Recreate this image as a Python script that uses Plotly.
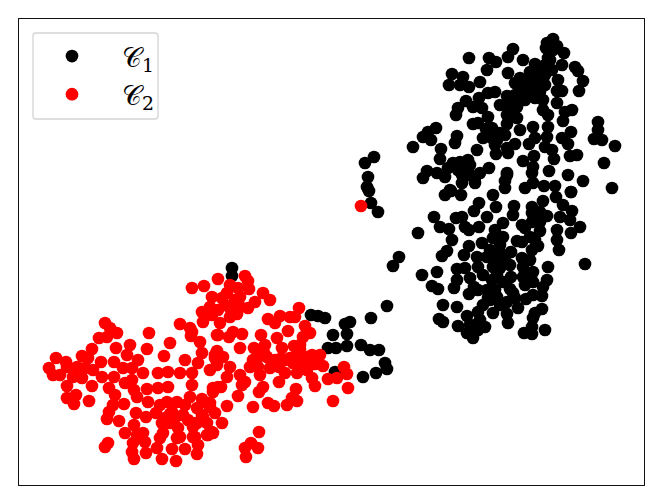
import plotly.graph_objects as go

c1_x = [469,489,496,487,513,508,523,535,508,452,463,449,460,469,480,553,547,546,557,564,548,562,575,578,583,579,558,552,540,530,520,515,532,540,527,537,545,535,543,522,557,562,557,572,565,563,571,562,568,598,598,594,602,615,604,577,570,568,583,612,495,488,479,507,500,508,517,466,458,456,473,482,488,473,478,486,507,517,507,520,533,500,492,483,495,496,547,548,548,543,436,428,423,431,413,457,455,441,440,477,515,507,508,529,535,523,534,545,552,554,533,532,549,507,505,489,468,460,453,465,470,480,427,423,437,445,450,462,475,525,533,544,555,571,
        374,365,368,367,369,371,378,445,451,461,493,479,474,496,487,514,532,543,556,563,572,560,570,580,571,557,557,559,571,507,505,434,456,462,440,449,465,469,479,452,418,532,540,547,532,513,522,540,503,495,503,493,517,530,522,532,538,500,511,482,469,464,447,442,399,393,422,437,457,465,477,478,487,495,505,493,500,522,523,533,523,533,548,585,547,543,542,533,526,457,454,432,438,470,474,469,483,492,503,511,510,513,487,497,488,507,518,443,457,467,483,478,493,507,508,542,535,533,439,443,458,475,485,481,467,473,478,532,524,532,545,387,371,
        232,232,350,345,347,333,311,318,325,328,336,347,361,370,379,385,387,376,363,335,
        525,535,545,530,520,540,550,553,551,545,525,515,500,490,510,497,525,530,515,495,480,490,500,470,525,540,535,478,458,470,462,475,448,492,497,505,510,513]
c1_y = [58,58,62,70,49,57,60,64,73,74,77,85,85,87,82,39,43,48,46,53,58,65,67,71,81,91,80,70,73,72,78,83,83,83,90,90,75,98,100,87,91,91,103,110,112,121,132,138,144,122,130,139,140,146,163,155,156,175,181,188,92,93,98,96,105,105,107,101,108,115,107,108,117,124,123,129,115,118,124,130,127,133,138,138,145,154,137,127,115,110,128,132,137,140,147,136,143,149,159,150,144,148,153,144,138,161,156,147,150,159,167,173,171,173,181,168,160,162,163,168,175,173,171,178,173,177,190,183,183,188,183,186,186,192,
        157,163,177,187,191,203,212,195,191,195,195,203,211,207,217,206,207,201,197,205,211,217,220,227,233,230,240,250,192,175,188,217,218,217,227,229,227,230,227,240,233,213,212,216,222,215,225,231,223,230,237,238,241,237,242,250,246,245,252,243,246,255,251,256,257,266,275,272,269,268,257,267,257,260,258,267,268,258,267,272,277,282,267,264,280,287,296,295,299,280,288,286,289,278,287,294,275,280,282,277,289,293,290,297,298,302,308,305,307,316,305,312,313,314,323,309,313,318,319,322,326,325,327,325,333,338,330,327,333,334,330,306,318,
        268,276,322,324,334,335,315,316,318,348,348,346,345,350,350,363,369,373,377,372,
        80,78,85,95,95,92,60,50,45,65,100,95,252,250,265,275,285,260,298,290,320,300,305,325,228,222,240,290,170,165,175,178,168,128,140,135,100,112]

c2_x = [361,
        105,110,117,99,107,149,130,116,147,170,164,92,82,88,56,66,49,53,60,67,101,114,127,138,123,132,143,158,168,180,192,185,77,85,93,73,82,102,92,67,67,76,74,89,114,109,115,125,132,134,137,147,158,168,148,167,177,190,192,124,113,109,107,119,136,146,156,170,183,202,210,202,213,218,134,125,137,143,133,145,162,170,163,160,180,177,193,198,185,197,172,157,162,176,134,132,146,108,105,197,212,207,193,192,204,218,212,210,202,212,203,180,190,191,200,202,198,210,215,217,
        245,248,230,227,238,249,263,270,240,255,248,225,237,210,220,230,218,229,242,233,268,280,275,290,295,299,305,310,303,288,261,277,294,282,254,264,267,258,253,240,192,217,223,215,217,230,250,258,270,260,280,279,290,297,305,312,320,293,302,323,315,285,297,307,279,245,240,227,221,213,238,242,263,259,296,297,287,292,268,274,312,315,344,347,337,328,348,333,227,253,203,210,197,215,222,203,195,207,213,208,195,259,251,245,258,246,
        175,188,165,178,172,185,160,222,235,230,218,240,300,310,285,275,300,265]
c2_y = [206,
        323,328,333,338,337,333,345,348,349,343,356,349,356,358,358,362,368,375,375,367,362,362,355,360,368,368,373,373,372,373,373,360,367,368,370,377,378,377,386,386,398,395,404,401,377,388,395,383,380,390,397,389,388,387,402,402,402,397,385,404,405,412,419,421,413,417,413,414,415,399,407,415,388,387,425,433,435,433,443,442,423,423,433,438,437,438,437,445,449,454,449,448,459,461,459,452,453,443,447,423,432,435,427,288,286,279,297,307,312,315,322,324,328,336,342,353,363,370,355,335,
        276,281,285,293,288,289,293,300,297,302,308,305,314,310,323,317,335,337,334,332,319,316,323,317,317,308,326,333,337,331,335,338,346,348,348,353,357,357,360,348,332,351,357,358,365,367,367,367,368,375,359,367,358,355,357,355,355,363,363,366,364,373,373,370,382,382,375,377,387,392,396,385,387,392,389,401,405,398,403,406,378,386,367,374,378,379,388,401,406,407,402,403,408,413,423,417,423,423,433,435,437,432,443,448,448,457,
        418,420,418,428,412,405,405,298,300,308,310,307,350,363,360,360,345,345]

series_names = ["𝒞<sub>1</sub>", "𝒞<sub>2</sub>"]
series_colors = ["#000000", "#ff0000"]

fig = go.Figure()
for name, xs, ys, color in zip(series_names, [c1_x, c2_x], [c1_y, c2_y], series_colors):
    fig.add_trace(go.Scatter(x=xs, y=ys, mode="markers", name=name,
                             marker=dict(color=color, size=12.7, line=dict(width=0))))

fig.update_layout(
    width=664, height=504,
    margin=dict(l=19, r=20, t=19, b=19),
    paper_bgcolor="white", plot_bgcolor="white",
    font=dict(family="DejaVu Serif, DejaVu Sans, serif", color="black", size=27),
    showlegend=True,
    legend=dict(x=0.0048, y=0.972, xanchor="left", yanchor="top",
                bgcolor="rgba(0,0,0,0)", borderwidth=0, itemwidth=90,
                font=dict(size=27), tracegroupgap=0),
    shapes=[dict(type="path", xref="x", yref="y", layer="above",
                 path="M 36 33 L 155 33 Q 158 33 158 36 L 158 116 Q 158 119 155 119 "
                      "L 36 119 Q 33 119 33 116 L 33 36 Q 33 33 36 33 Z",
                 line=dict(color="#d4d4d4", width=1.3), fillcolor="white")],
)
axis = dict(showgrid=False, zeroline=False, showticklabels=False, ticks="",
            showline=True, mirror=True, linecolor="#111111", linewidth=1.4)
fig.update_xaxes(range=[19, 644], **axis)
fig.update_yaxes(range=[485, 19], **axis)

fig.write_html("out.html", config={"displayModeBar": False},
               post_script="document.body.style.margin='0';")
